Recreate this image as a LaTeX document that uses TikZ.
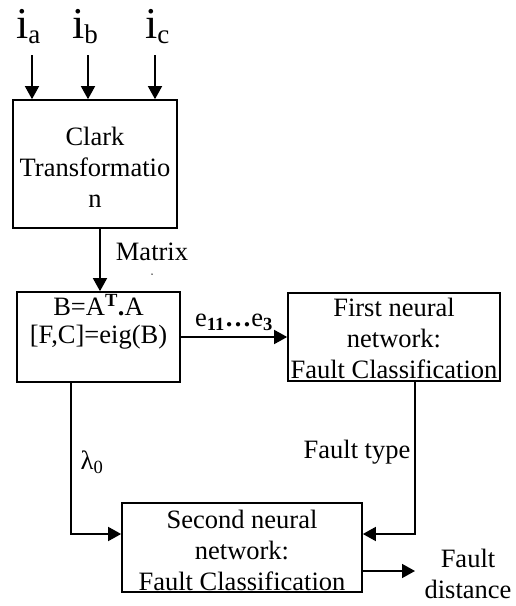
\documentclass[tikz,border=0pt]{standalone}
\usepackage{fontspec}
\setmainfont{Liberation Serif}
\usetikzlibrary{arrows.meta}
\tikzset{
  box/.style={draw, line width=1.7pt, inner sep=0pt},
  txt/.style={inner sep=0pt, align=center, font=\fontsize{26.5}{31}\selectfont},
  big/.style={inner sep=0pt, anchor=base west, font=\fontsize{44}{44}\selectfont},
  arr/.style={line width=1.6pt, -{Triangle[length=13pt,width=14pt]}},
  ln/.style={line width=1.6pt}
}
\newcommand{\lowsub}[1]{{\fontsize{27}{27}\selectfont\raisebox{-5pt}{#1}}}
\begin{document}
\begin{tikzpicture}[x=1pt,y=-1pt]
\useasboundingbox (0,0) rectangle (515,606);
% inputs
\node[big] (la) at (16,38) {i\lowsub{a}};
\node[big] (lb) at (72,38) {i\lowsub{b}};
\node[big] (lc) at (145,38) {i\lowsub{c}};
\coordinate (ia) at (32,55);
\coordinate (ib) at (88,55);
\coordinate (ic) at (155,55);
% Clark box
\node[box, minimum width=164pt, minimum height=128pt] (clark) at (95,164) {};
\node[txt] (clarkt) at (95,167) {Clark\\Transformatio\\n};
\draw[arr] (ia) -- (ia |- clark.north);
\draw[arr] (ib) -- (ib |- clark.north);
\draw[arr] (ic) -- (ic |- clark.north);
% B box
\node[box, minimum width=163pt, minimum height=90pt] (bbox) at (98.5,337) {};
\node[txt] (bboxt) at (98.5,322) {B=A\textsuperscript{\textbf{T}}\textbf{.}A\\[-3pt][F,C]=eig(B)};
\coordinate (mx) at (100,228);
\draw[arr] (mx) -- (mx |- bbox.north);
\node[txt] (matrix) at (152,252) {Matrix};
\node[circle, fill, inner sep=0pt, minimum size=1.5pt] (dot) at (152,274) {};
% First NN
\node[box, minimum width=212pt, minimum height=88pt] (fnn) at (394,337) {};
\node[txt] (fnnt) at (394,339) {First neural\\network:\\\underline{Fault Classification}};
\draw[arr] (bbox) -- (fnn) node[pos=0.5, above=6pt, txt] (elab) {e\textsubscript{\textbf{11}}\textbf{…}e\textsubscript{\textbf{3}}};
% Second NN
\node[box, minimum width=240pt, minimum height=89pt] (sbox) at (242,547.5) {};
\node[txt] (sboxt) at (242,551) {Second neural\\network:\\\underline{Fault Classification}};
\coordinate (yj) at (0,534);
\coordinate (lam) at (71,0);
\coordinate (ft) at (415,0);
\draw[arr] (bbox.south -| lam) |- (sbox.west |- yj);
\draw[arr] (fnn.south -| ft) |- (sbox.east |- yj);
\node[txt] (laml) at (92,462) {λ\textsubscript{0}};
\node[txt] (ftl) at (357,452) {Fault type};
\coordinate (fd) at (415,571);
\draw[arr] (sbox.east |- fd) -- (fd);
\node[txt] (fdl) at (468,574) {Fault\\distance};
\end{tikzpicture}
\end{document}
